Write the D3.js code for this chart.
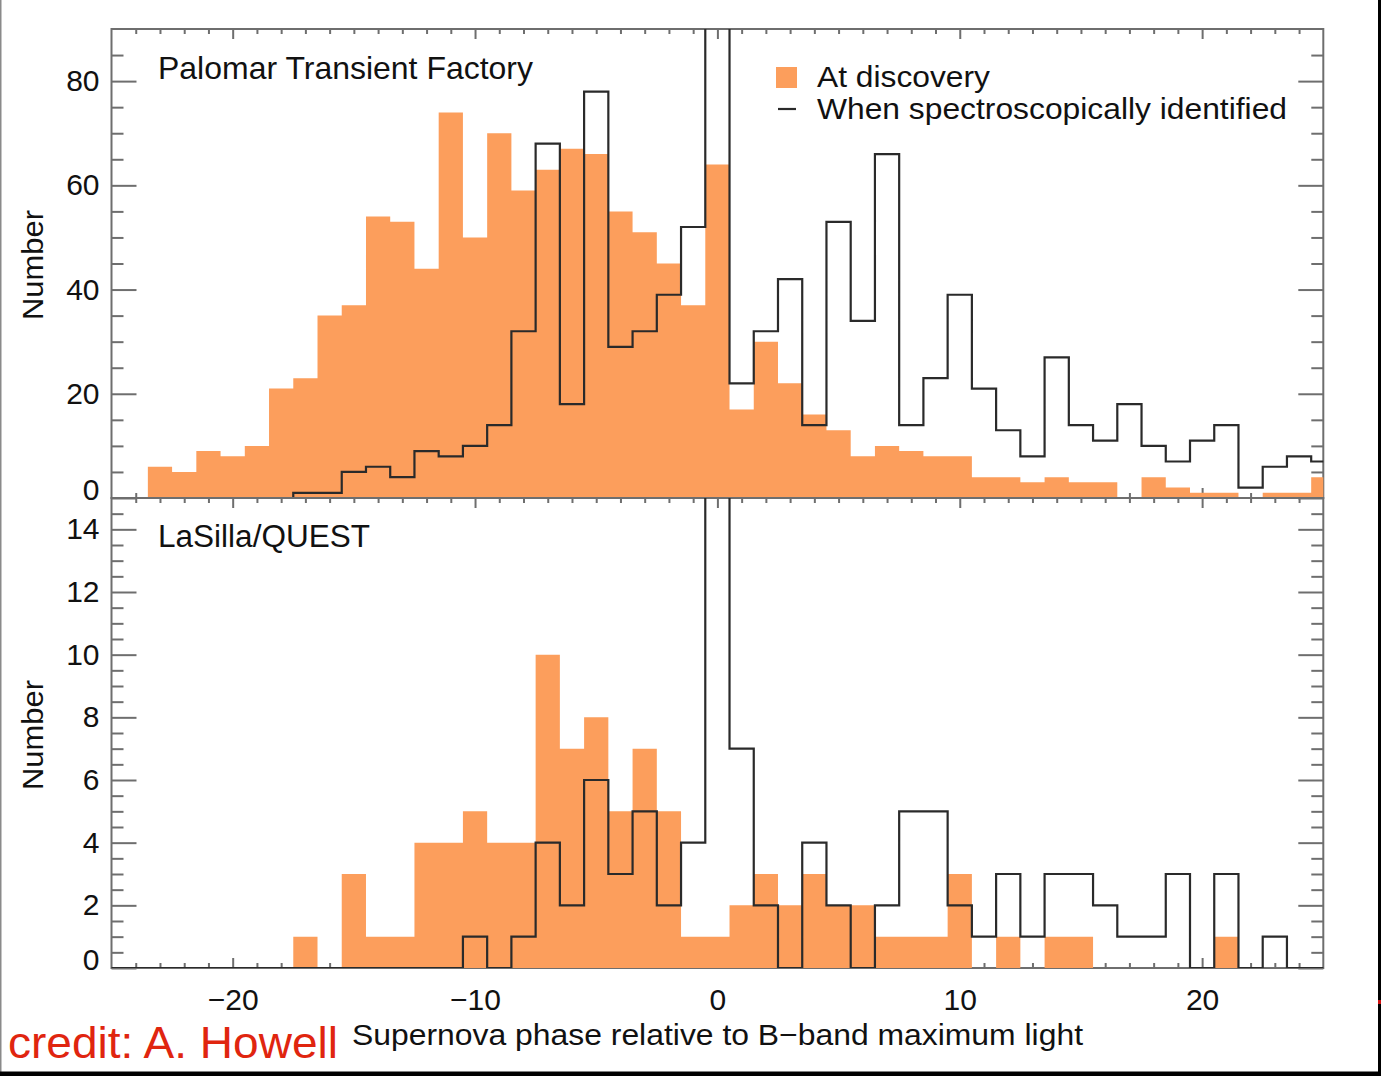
<!DOCTYPE html>
<html>
<head>
<meta charset="utf-8">
<script src="https://cdn.jsdelivr.net/npm/d3@7"></script>
<style>
  html, body { margin: 0; padding: 0; background: #fff; }
  svg { display: block; }
  text { font-family: "Liberation Sans", Arial, Helvetica, sans-serif; fill: #111; }
</style>
</head>
<body>
<svg id="chart" width="1381" height="1076"></svg>
<script>
// ---- Data ----
const phase = [-25,-24,-23,-22,-21,-20,-19,-18,-17,-16,-15,-14,-13,-12,-11,-10,-9,-8,-7,-6,-5,-4,-3,-2,-1,
               0,1,2,3,4,5,6,7,8,9,10,11,12,13,14,15,16,17,18,19,20,21,22,23,24,25];

// Palomar Transient Factory
const ptfDiscovery = [0,0,6,5,9,8,10,21,23,35,37,54,53,44,74,50,70,59,63,67,66,55,51,45,37,
                      64,17,30,22,16,13,8,10,9,8,8,4,4,3,4,3,3,0,4,2,1,1,0,1,1,4];
const ptfIdentified = [0,0,0,0,0,0,0,0,1,1,5,6,4,9,8,10,14,32,68,18,78,29,32,39,52,
                       120,22,32,42,14,53,34,66,14,23,39,21,13,8,27,14,11,18,10,7,11,14,2,6,8,7];

// LaSilla/QUEST
const lsqDiscovery = [0,0,0,0,0,0,0,0,1,0,3,1,1,4,4,5,4,4,10,7,8,5,7,5,1,
                      1,2,3,2,3,2,2,1,1,1,3,0,1,0,1,1,0,0,0,0,0,1,0,0,0,0];
const lsqIdentified = [0,0,0,0,0,0,0,0,0,0,0,0,0,0,0,1,0,1,4,2,6,3,5,2,4,
                       30,7,2,0,4,2,0,2,5,5,2,1,3,1,3,3,2,1,1,3,0,3,0,1,0,0];

const topTicksMajor = [0,20,40,60,80];
const topTicksMinor = [5,10,15,25,30,35,45,50,55,65,70,75,85];
const botTicksMajor = [0,2,4,6,8,10,12,14];
const botTicksMinor = [0.5,1,1.5,2.5,3,3.5,4.5,5,5.5,6.5,7,7.5,8.5,9,9.5,10.5,11,11.5,12.5,13,13.5,14.5];
const xTicksMajor = [-20,-10,0,10,20];
const xTicksMinor = [-24,-23,-22,-21,-19,-18,-17,-16,-15,-14,-13,-12,-11,-9,-8,-7,-6,-5,-4,-3,-2,-1,
                     1,2,3,4,5,6,7,8,9,11,12,13,14,15,16,17,18,19,21,22,23,24];

const xTitle = "Supernova phase relative to B\u2212band maximum light";
const yTitle = "Number";
const panelTitles = ["Palomar Transient Factory", "LaSilla/QUEST"];
const legendLabels = ["At discovery", "When spectroscopically identified"];
const creditText = "credit:  A. Howell";

// ---- Layout ----
const ORANGE = "#fc9e5c";
const LINE = "#2a2a2a";
const FRAME = "#6e6e6e";
const svg = d3.select("#chart");

const x = d3.scaleLinear().domain([-25, 25]).range([111.5, 1323.3]);
const yTop = d3.scaleLinear().domain([0, 90]).range([498, 29]);
const yBot = d3.scaleLinear().domain([0, 15]).range([968, 498]);

const bins = phase.map((p, i) => i);

function drawPanel(id, y, disc, ident, majorY, minorY) {
  const [y0, y1] = y.range();
  const clipId = "clip-" + id;
  svg.append("clipPath").attr("id", clipId)
    .append("rect")
    .attr("x", x.range()[0]).attr("y", y1)
    .attr("width", x.range()[1] - x.range()[0]).attr("height", y0 - y1);

  const g = svg.append("g").attr("clip-path", `url(#${clipId})`);

  // step points: left edge of each bin, plus the final right edge
  const stepPts = (vals) => {
    const pts = phase.map((p, i) => [p - 0.5, vals[i]]);
    pts.push([phase[phase.length - 1] + 0.5, vals[vals.length - 1]]);
    return pts;
  };

  const area = d3.area()
    .x(d => x(d[0])).y0(y(0)).y1(d => y(d[1]))
    .curve(d3.curveStepAfter);
  g.append("path").datum(stepPts(disc))
    .attr("d", area).attr("fill", ORANGE).attr("stroke", "none");

  const line = d3.line()
    .x(d => x(d[0])).y(d => y(d[1]))
    .curve(d3.curveStepAfter);
  g.append("path").datum(stepPts(ident))
    .attr("d", line).attr("fill", "none")
    .attr("stroke", LINE).attr("stroke-width", 2.2);

  // Axes
  const xl = x.range()[0], xr = x.range()[1];
  const styleAxis = sel => {
    sel.select(".domain").remove();
    sel.selectAll(".tick line").attr("stroke", FRAME).attr("stroke-width", 2);
    sel.selectAll(".tick text").attr("font-size", 30).attr("fill", "#111")
       .attr("font-family", "'Liberation Sans', Arial, sans-serif");
  };

  // left
  svg.append("g").attr("transform", `translate(${xl},0)`)
    .call(d3.axisLeft(y).tickValues(minorY).tickSize(-12).tickFormat(""))
    .call(styleAxis);
  const left = svg.append("g").attr("transform", `translate(${xl},0)`)
    .call(d3.axisLeft(y).tickValues(majorY).tickSize(-25).tickPadding(12).tickFormat(d3.format("d")))
    .call(styleAxis);
  left.selectAll(".tick").filter(d => d === 0).select("text").attr("y", -8);

  // right
  svg.append("g").attr("transform", `translate(${xr},0)`)
    .call(d3.axisRight(y).tickValues(minorY).tickSize(-12).tickFormat(""))
    .call(styleAxis);
  svg.append("g").attr("transform", `translate(${xr},0)`)
    .call(d3.axisRight(y).tickValues(majorY).tickSize(-25).tickFormat(""))
    .call(styleAxis);

  // top edge of panel (ticks pointing down)
  svg.append("g").attr("transform", `translate(0,${y1})`)
    .call(d3.axisTop(x).tickValues(xTicksMinor).tickSize(-5).tickFormat(""))
    .call(styleAxis);
  svg.append("g").attr("transform", `translate(0,${y1})`)
    .call(d3.axisTop(x).tickValues(xTicksMajor).tickSize(-10).tickFormat(""))
    .call(styleAxis);
  // bottom edge of panel (ticks pointing up)
  svg.append("g").attr("transform", `translate(0,${y0})`)
    .call(d3.axisBottom(x).tickValues(xTicksMinor).tickSize(-5).tickFormat(""))
    .call(styleAxis);
  const bottom = svg.append("g").attr("transform", `translate(0,${y0})`)
    .call(d3.axisBottom(x).tickValues(xTicksMajor).tickSize(-10).tickPadding(21)
      .tickFormat(id === "bot" ? (d => d < 0 ? "\u2212" + Math.abs(d) : String(d)) : ""))
    .call(styleAxis);

  // frame
  svg.append("rect")
    .attr("x", xl).attr("y", y1).attr("width", xr - xl).attr("height", y0 - y1)
    .attr("fill", "none").attr("stroke", FRAME).attr("stroke-width", 2);

  // redraw the identified step line's zero baseline darkness over frame
  g.raise();
  svg.selectAll(".frame-top").raise();
}

drawPanel("top", yTop, ptfDiscovery, ptfIdentified, topTicksMajor, topTicksMinor);
drawPanel("bot", yBot, lsqDiscovery, lsqIdentified, botTicksMajor, botTicksMinor);

// Panel titles
svg.append("text").attr("x", 158).attr("y", 79).attr("font-size", 32)
  .attr("textLength", 375).attr("lengthAdjust", "spacingAndGlyphs").text(panelTitles[0]);
svg.append("text").attr("x", 158).attr("y", 547).attr("font-size", 31)
  .attr("textLength", 212).attr("lengthAdjust", "spacingAndGlyphs").text(panelTitles[1]);

// Legend
svg.append("rect").attr("x", 776).attr("y", 67).attr("width", 21).attr("height", 21).attr("fill", ORANGE);
svg.append("line").attr("x1", 778).attr("x2", 796).attr("y1", 109).attr("y2", 109)
  .attr("stroke", LINE).attr("stroke-width", 2.2);
svg.append("text").attr("x", 817).attr("y", 87).attr("font-size", 30)
  .attr("textLength", 173).attr("lengthAdjust", "spacingAndGlyphs").text(legendLabels[0]);
svg.append("text").attr("x", 817).attr("y", 119).attr("font-size", 30)
  .attr("textLength", 470).attr("lengthAdjust", "spacingAndGlyphs").text(legendLabels[1]);

// Axis titles
svg.append("text").attr("x", 352).attr("y", 1045).attr("font-size", 30)
  .attr("textLength", 731).attr("lengthAdjust", "spacingAndGlyphs").text(xTitle);
[[yTop, 265], [yBot, 735]].forEach(([s, cy]) => {
  svg.append("text").attr("transform", `translate(43,${cy}) rotate(-90)`)
    .attr("text-anchor", "middle").attr("font-size", 30)
    .attr("textLength", 110).attr("lengthAdjust", "spacingAndGlyphs").text(yTitle);
});

// Credit
svg.append("text").attr("x", 8).attr("y", 1058).attr("font-size", 44)
  .attr("font-family", "Lato, 'Open Sans', sans-serif")
  .style("fill", "#e0250f")
  .attr("textLength", 330).attr("lengthAdjust", "spacingAndGlyphs").text(creditText);

// Outer image borders
svg.append("rect").attr("x", 0).attr("y", 0).attr("width", 1.5).attr("height", 1072).attr("fill", "#8a8a8a");
svg.append("rect").attr("x", 1378).attr("y", 0).attr("width", 3).attr("height", 1076).attr("fill", "#000");
svg.append("rect").attr("x", 0).attr("y", 1071.5).attr("width", 1381).attr("height", 4.5).attr("fill", "#000");
svg.append("rect").attr("x", 1378).attr("y", 1000).attr("width", 3).attr("height", 4).attr("fill", "#d01010");
</script>
</body>
</html>
